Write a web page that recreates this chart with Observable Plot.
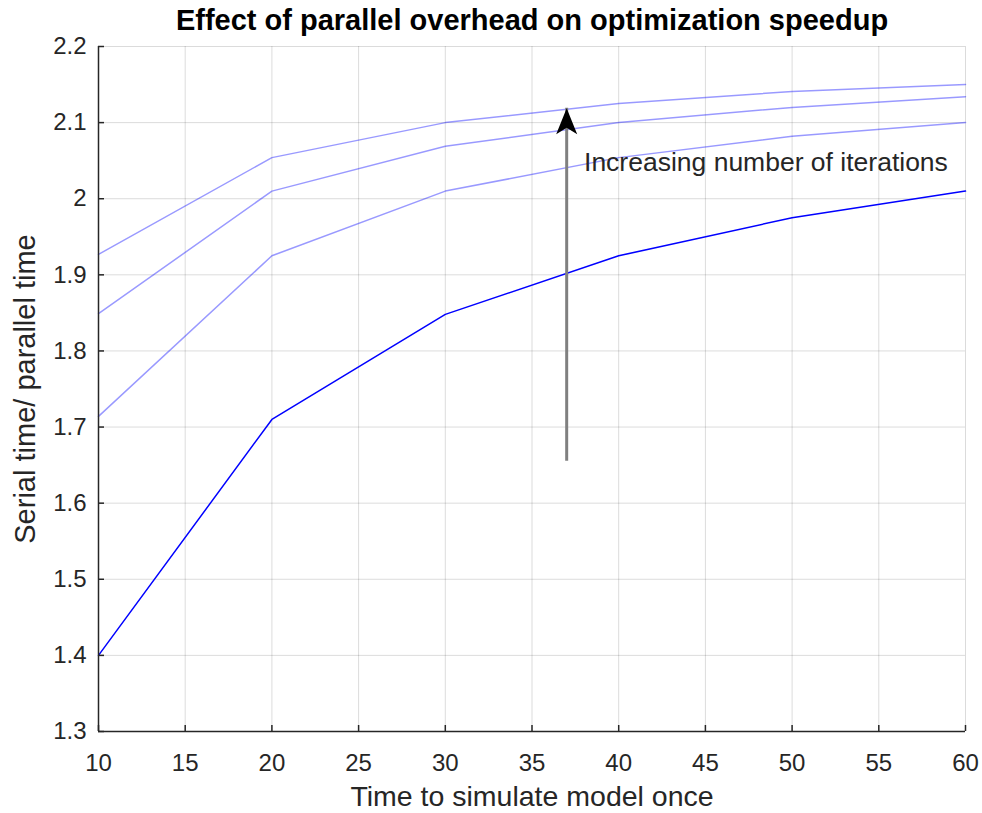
<!DOCTYPE html>
<html><head><meta charset="utf-8">
<script src="https://cdn.jsdelivr.net/npm/d3@7"></script>
<script src="https://cdn.jsdelivr.net/npm/@observablehq/plot@0.6"></script>
<style>body{margin:0;background:#fff;} svg{display:block}</style>
</head><body><div id="chart"></div>
<script>
const titleText = "Effect of parallel overhead on optimization speedup";
const xLabel = "Time to simulate model once";
const yLabel = "Serial time/ parallel time";
const annotationText = "Increasing number of iterations";

const xValues = [10, 20, 30, 40, 50, 60];
const series1 = [1.400, 1.710, 1.848, 1.925, 1.975, 2.010];
const series2 = [1.714, 1.925, 2.010, 2.054, 2.082, 2.100];
const series3 = [1.849, 2.010, 2.069, 2.100, 2.120, 2.134];
const series4 = [1.927, 2.054, 2.100, 2.125, 2.141, 2.150];

const xTicks = [10, 15, 20, 25, 30, 35, 40, 45, 50, 55, 60];
const yTicks = [1.3, 1.4, 1.5, 1.6, 1.7, 1.8, 1.9, 2.0, 2.1, 2.2];

const arrowX = 37, arrowY1 = 1.676, arrowY2 = 2.119;
const annotationX = 38, annotationY = 2.048;

const toRows = (name, vals) => vals.map((v, i) => ({series: name, x: xValues[i], y: v}));
const mainRows = toRows("s1", series1);
const lightRows = [...toRows("s2", series2), ...toRows("s3", series3), ...toRows("s4", series4)];
const arrowData = [{x: arrowX, y1: arrowY1, y2: arrowY2}];

const fam = '"Liberation Sans", Arial, Helvetica, sans-serif';
const ink = "#262626";

const arrowHead = {
  draw(context, l) {
    const w = 10.5;
    context.moveTo(0, -l);
    context.lineTo(-w, 0);
    context.lineTo(0, -l * 0.25);
    context.lineTo(w, 0);
    context.closePath();
  }
};

const chart = Plot.plot({
  width: 982, height: 813,
  marginLeft: 98, marginRight: 17, marginTop: 46, marginBottom: 82,
  style: {fontFamily: fam, background: "#fff"},
  x: {domain: [10, 60]},
  y: {domain: [1.3, 2.2]},
  marks: [
    Plot.gridX(xTicks, {stroke: "#000", strokeOpacity: 0.14, strokeWidth: 1}),
    Plot.gridY(yTicks, {stroke: "#000", strokeOpacity: 0.14, strokeWidth: 1}),
    Plot.line(lightRows, {x: "x", y: "y", z: "series", stroke: "#0000ff", strokeOpacity: 0.4, strokeWidth: 1.5}),
    Plot.line(mainRows, {x: "x", y: "y", stroke: "#0000ff", strokeWidth: 1.5}),
    Plot.ruleX(arrowData, {x: "x", y1: "y1", y2: "y2", stroke: "#808080", strokeWidth: 3, insetTop: 16}),
    Plot.vector(arrowData, {x: "x", y: "y2", anchor: "end", length: 26, rotate: 0, shape: arrowHead, fill: "#000", stroke: "none"}),
    Plot.text([annotationText], {x: () => annotationX, y: () => annotationY, text: d => d, textAnchor: "start", fontSize: 26.5, fill: ink}),
    Plot.ruleX([10], {stroke: ink, strokeWidth: 1.5}),
    Plot.ruleY([1.3], {stroke: ink, strokeWidth: 1.5}),
    Plot.tickX(xTicks, {x: d => d, insetTop: 679, stroke: ink, strokeWidth: 1.5}),
    Plot.tickY(yTicks, {y: d => d, insetRight: 861, stroke: ink, strokeWidth: 1.5}),
    Plot.axisX(xTicks, {tickSize: 0, tickPadding: 22, fontSize: 24, fill: ink, label: null}),
    Plot.axisY(yTicks, {tickSize: 0, tickPadding: 12, fontSize: 24, fill: ink, label: null, tickFormat: d3.format("~g")}),
    Plot.text([titleText], {frameAnchor: "top", dy: -26, lineAnchor: "middle", text: d => d, fontSize: 29, fontWeight: "bold", fill: "#000"}),
    Plot.text([xLabel], {frameAnchor: "bottom", dy: 65, lineAnchor: "middle", text: d => d, fontSize: 28.5, fill: ink}),
    Plot.text([yLabel], {frameAnchor: "left", dx: -73, rotate: -90, textAnchor: "middle", lineAnchor: "middle", text: d => d, fontSize: 29, fill: ink})
  ]
});
document.getElementById("chart").appendChild(chart);
</script>
</body></html>
